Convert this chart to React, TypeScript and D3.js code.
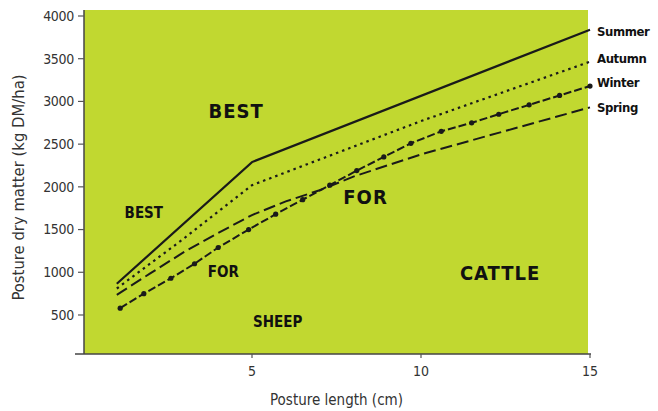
import React from "react";
import * as d3 from "d3";

// posture length (cm) / dry matter (kg DM/ha)
const summerX = [1, 5, 15];
const summerY = [865, 2290, 3840];

const autumnX = [1, 3, 5, 10, 15];
const autumnY = [810, 1400, 2020, 2770, 3465];

const winterX = [1.1, 1.8, 2.6, 3.3, 4.0, 4.9, 5.7, 6.5, 7.3, 8.1, 8.9, 9.7, 10.6, 11.5, 12.3, 13.2, 14.1, 15.0];
const winterY = [580, 750, 930, 1100, 1290, 1500, 1680, 1850, 2020, 2190, 2350, 2510, 2650, 2750, 2850, 2960, 3070, 3180];

const springX = [1, 2, 3, 4, 5, 6, 7, 8, 9, 10, 11, 12, 13, 14, 15];
const springY = [735, 990, 1240, 1460, 1670, 1830, 1960, 2120, 2250, 2380, 2490, 2600, 2710, 2820, 2930];

const seasonNames = ["Summer", "Autumn", "Winter", "Spring"];

const xTicks = [5, 10, 15];
const yTicks = [500, 1000, 1500, 2000, 2500, 3000, 3500, 4000];

// zone labels placed in data units
const zoneText = ["BEST", "BEST", "FOR", "SHEEP", "FOR", "CATTLE"];
const zoneX = [4.53, 1.8, 4.15, 5.76, 8.36, 12.34];
const zoneY = [2895, 1694, 1007, 421, 1885, 991];
const zoneBig = [true, false, false, false, true, true];

const W = 658;
const H = 411;
const green = "#c1d830";
const ink = "#1a1a1a";
const font = "'DejaVu Sans Condensed', 'DejaVu Sans', sans-serif";

type Pt = { x: number; y: number };

const zip = (xs: number[], ys: number[]): Pt[] => xs.map((x, i) => ({ x, y: ys[i] }));

const App: React.FC = () => {
  const x = d3.scaleLinear().domain([0, 15]).range([83, 590]);
  const y = d3.scaleLinear().domain([0, 4000]).range([357.7, 16]);

  const line = d3
    .line<Pt>()
    .x((d) => x(d.x))
    .y((d) => y(d.y));

  const series = [
    { name: seasonNames[0], pts: zip(summerX, summerY), dash: "none", w: 2.2, dy: 2 },
    { name: seasonNames[1], pts: zip(autumnX, autumnY), dash: "2.5,4", w: 2.2, dy: -3 },
    { name: seasonNames[2], pts: zip(winterX, winterY), dash: "8,3", w: 2, dy: -4 },
    { name: seasonNames[3], pts: zip(springX, springY), dash: "12,5", w: 2, dy: 0 },
  ];

  const plotLeft = x(0) + 1;
  const plotRight = 588;
  const plotTop = 10;
  const plotBottom = 354;

  return (
    <svg
      width={W}
      height={H}
      style={{ position: "absolute", left: 0, top: 0, background: "#fff" }}
      fontFamily={font}
    >
      <rect x={plotLeft} y={plotTop} width={plotRight - plotLeft} height={plotBottom - plotTop} fill={green} />

      {/* y axis */}
      <line x1={plotLeft} x2={plotLeft} y1={plotTop} y2={plotBottom} stroke="#444" strokeWidth={1.5} />
      {yTicks.map((t) => (
        <g key={t}>
          <line x1={plotLeft - 6} x2={plotLeft} y1={y(t)} y2={y(t)} stroke="#555" strokeWidth={1.2} />
          <text x={plotLeft - 10} y={y(t)} dy="0.35em" textAnchor="end" fontSize={14} letterSpacing={-0.3} fill="#333">
            {t}
          </text>
        </g>
      ))}
      <text
        transform={`translate(18,${(y(500) + y(4000)) / 2 + 22}) rotate(-90)`}
        textAnchor="middle"
        dy="0.35em"
        fontSize={16.5}
        fill="#333"
      >
        Posture dry matter (kg DM/ha)
      </text>

      {/* x axis */}
      <line x1={x(0) - 8} x2={x(15) + 1} y1={plotBottom} y2={plotBottom} stroke="#444" strokeWidth={1.5} />
      {xTicks.map((t) => (
        <g key={t}>
          <line x1={x(t)} x2={x(t)} y1={plotBottom} y2={plotBottom + 4} stroke="#555" strokeWidth={1.2} />
          <text x={x(t)} y={plotBottom + 17} dy="0.35em" textAnchor="middle" fontSize={14} fill="#333">
            {t}
          </text>
        </g>
      ))}
      <text x={(x(0) + x(15)) / 2} y={400} dy="0.35em" textAnchor="middle" fontSize={15} fill="#333">
        Posture length (cm)
      </text>

      {/* zone labels */}
      {zoneText.map((s, i) => (
        <text
          key={i}
          x={x(zoneX[i])}
          y={y(zoneY[i])}
          dy="0.36em"
          textAnchor="middle"
          fontWeight="bold"
          fontSize={zoneBig[i] ? 20 : 15}
          letterSpacing={zoneBig[i] ? 1 : 0}
          fill="#111"
        >
          {s}
        </text>
      ))}

      {/* season lines */}
      {series.map((s) => (
        <path
          key={s.name}
          d={line(s.pts) || ""}
          fill="none"
          stroke={ink}
          strokeWidth={s.w}
          strokeDasharray={s.dash}
          strokeLinecap="butt"
        />
      ))}
      {series[2].pts.map((p, i) => (
        <circle key={i} cx={x(p.x)} cy={y(p.y)} r={2.6} fill={ink} />
      ))}

      {/* legend at line ends */}
      {series.map((s) => {
        const last = s.pts[s.pts.length - 1];
        return (
          <text
            key={s.name}
            x={597}
            y={y(last.y) + s.dy}
            dy="0.35em"
            fontSize={13}
            fontWeight="bold"
            letterSpacing={-0.4}
            fill="#111"
          >
            {s.name}
          </text>
        );
      })}
    </svg>
  );
};

export default App;
